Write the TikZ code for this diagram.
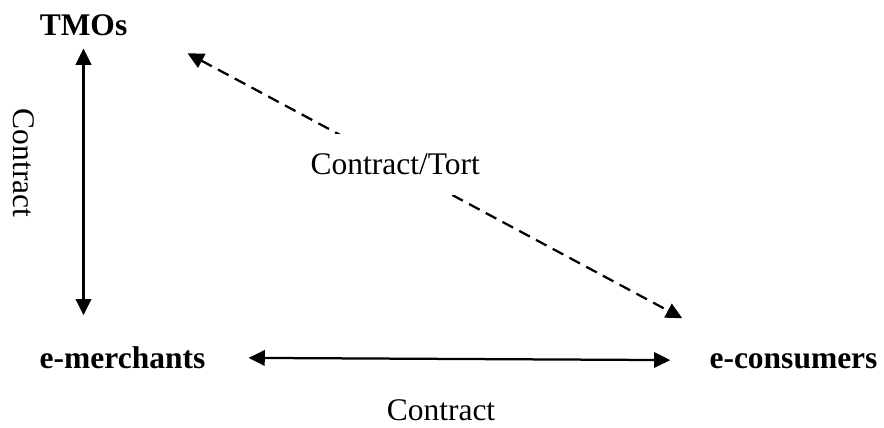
\documentclass[tikz,border=0pt]{standalone}
\usepackage{fontspec}
\setmainfont{Liberation Serif}
\usepackage{tikz}
\usetikzlibrary{calc, positioning, arrows.meta}

\begin{document}
\begin{tikzpicture}[
  x=0.025cm, y=-0.025cm,
  font=\fontsize{22.4}{27}\selectfont,
  party/.style={inner sep=0pt, anchor=base, font=\fontsize{22.4}{27}\selectfont\bfseries},
  lbl/.style={inner sep=0pt},
  link/.style={line width=1.6pt, {Triangle[length=11.5pt,width=11pt]}-{Triangle[length=11.5pt,width=11pt]}},
  tort/.style={link, dash pattern=on 8.5pt off 5pt}
]
\useasboundingbox (0,0) rectangle (884,428);

\node[party] (tmo)   at (83.5,35)  {TMOs};
\node[party] (merch) at (122.5,368) {e-merchants};
\node[party] (cons)  at (793.5,368) {e-consumers};

\node[lbl, rotate=-90] (vcon) at (24,163) {Contract};
\node[lbl, anchor=base] (hcon) at (441,420) {Contract};

\draw[link, shorten <=0.325cm, shorten >=1.05cm] (tmo) -- (tmo |- merch);
\draw[link, shorten <=1.075cm, shorten >=0.975cm] (merch) -- (cons);
\draw[tort] ([shift={(60,28.5)}]tmo.east) -- node[lbl, fill=white, inner ysep=0.5cm, pos=0.42] (ct) {Contract/Tort} ([shift={(-27,-34.6)}]cons.north west);
\end{tikzpicture}
\end{document}
